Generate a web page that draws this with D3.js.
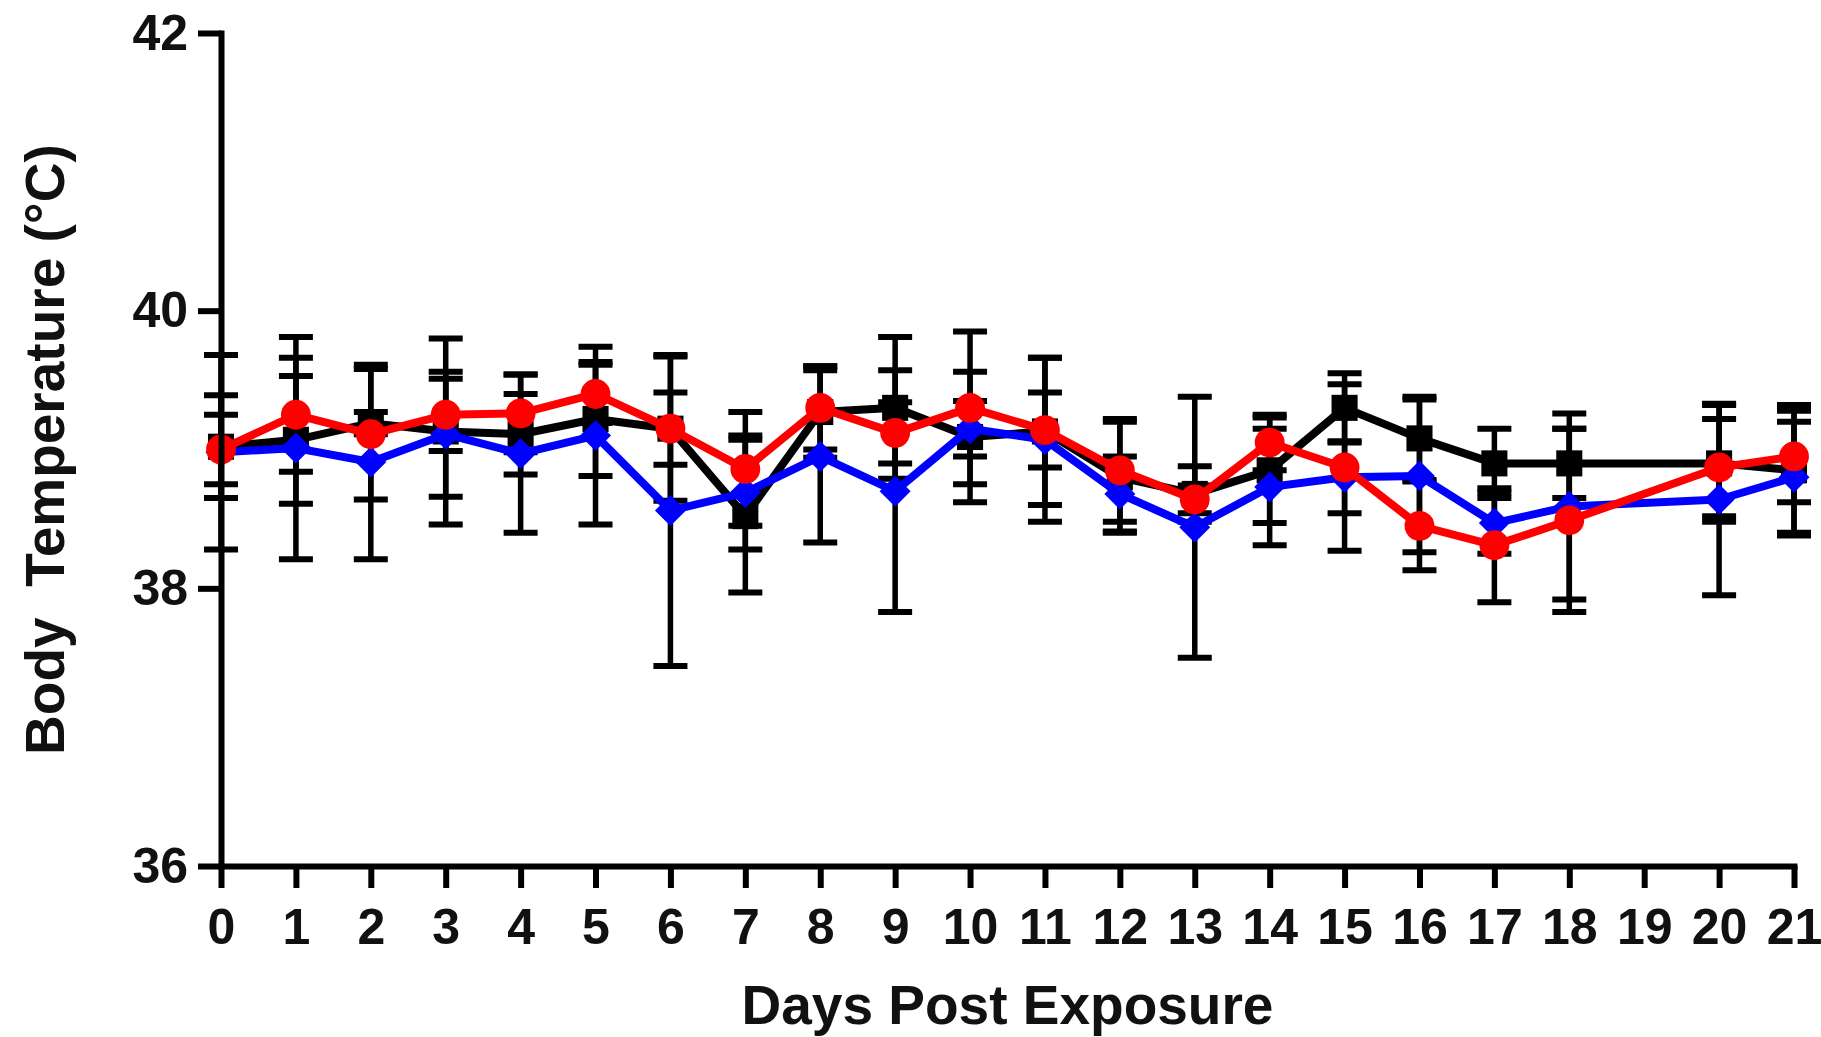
<!DOCTYPE html>
<html>
<head>
<meta charset="utf-8">
<script src="https://cdn.jsdelivr.net/npm/d3@7"></script>
<style>
  html, body { margin: 0; padding: 0; background: #fff; }
  svg { display: block; }
  text { font-family: "Liberation Sans", Arial, sans-serif; font-weight: bold; fill: #111; white-space: pre; }
</style>
</head>
<body>
<svg id="chart" width="1821" height="1037"></svg>
<script>
// ---- data ----
const days = [0,1,2,3,4,5,6,7,8,9,10,11,12,13,14,15,16,17,18,20,21];
const xTicks = [0,1,2,3,4,5,6,7,8,9,10,11,12,13,14,15,16,17,18,19,20,21];
const yTicks = [36,38,40,42];

const blackMean = [39.02,39.07,39.19,39.13,39.11,39.22,39.15,38.52,39.27,39.30,39.09,39.13,38.80,38.68,38.85,39.30,39.08,38.90,38.90,38.90,38.85];
const blackSD   = [0.37,0.46,0.08,0.67,0.29,0.41,0.52,0.55,0.33,0.51,0.47,0.53,0.40,0.20,0.38,0.25,0.30,0.25,0.25,0.42,0.47];

const blueMean  = [38.98,39.01,38.91,39.11,38.97,39.10,38.56,38.69,38.95,38.70,39.15,39.07,38.68,38.44,38.73,38.80,38.81,38.47,38.59,38.64,38.80];
const blueSD    = [0.70,0.80,0.70,0.45,0.57,0.64,1.12,0.41,0.62,0.87,0.20,0.59,0.27,0.94,0.42,0.26,0.55,0.22,0.67,0.69,0.40];

const redMean   = [39.00,39.25,39.11,39.25,39.26,39.40,39.15,38.86,39.30,39.12,39.30,39.14,38.85,38.64,39.05,38.87,38.45,38.31,38.49,38.87,38.95];
const redSD     = [0.25,0.41,0.47,0.26,0.28,0.21,0.26,0.41,0.30,0.22,0.55,0.27,0.37,0.10,0.20,0.60,0.32,0.41,0.66,0.35,0.33];

const xTitle = "Days Post Exposure";
const yTitle = "Body  Temperature (\u00B0C)";

// ---- layout ----
const svg = d3.select("#chart");
const x = d3.scaleLinear().domain([0, 21]).range([221, 1794]);
const y = d3.scaleLinear().domain([36, 42]).range([866, 33]);

const series = [
  { mean: blackMean, sd: blackSD, color: "#000000", shape: "square" },
  { mean: blueMean,  sd: blueSD,  color: "#0000ff", shape: "diamond" },
  { mean: redMean,   sd: redSD,   color: "#ff0000", shape: "circle" }
];

// error bars
const eb = svg.append("g");
series.forEach(s => {
  days.forEach((d, i) => {
    const cx = x(d), top = y(s.mean[i] + s.sd[i]), bot = y(s.mean[i] - s.sd[i]);
    eb.append("line").attr("x1", cx).attr("x2", cx).attr("y1", top).attr("y2", bot)
      .attr("stroke", "#000").attr("stroke-width", 5.5);
    [top, bot].forEach(yy => {
      eb.append("line").attr("x1", cx - 17).attr("x2", cx + 17).attr("y1", yy).attr("y2", yy)
        .attr("stroke", "#000").attr("stroke-width", 6);
    });
  });
});

// lines + markers
const line = d3.line().x(p => x(p[0])).y(p => y(p[1]));
series.forEach(s => {
  const pts = days.map((d, i) => [d, s.mean[i]]);
  svg.append("path").datum(pts).attr("d", line)
    .attr("fill", "none").attr("stroke", s.color).attr("stroke-width", 8)
    .attr("stroke-linejoin", "round");
  let sym;
  if (s.shape === "square") sym = d3.symbol().type(d3.symbolSquare).size(680);
  else if (s.shape === "diamond") sym = d3.symbol().type(d3.symbolSquare).size(480);
  else sym = d3.symbol().type(d3.symbolCircle).size(700);
  svg.append("g").selectAll("path").data(pts).join("path")
    .attr("transform", p => `translate(${x(p[0])},${y(p[1])})` + (s.shape === "diamond" ? " rotate(45)" : ""))
    .attr("d", sym)
    .attr("fill", s.color);
});

// axes
const yAxis = d3.axisLeft(y).tickValues(yTicks).tickFormat(d3.format("d")).tickSize(23).tickSizeOuter(0).tickPadding(10);
const gy = svg.append("g").attr("transform", `translate(${x(0)},0)`).call(yAxis);
const xAxis = d3.axisBottom(x).tickValues(xTicks).tickFormat(d3.format("d")).tickSize(22).tickSizeOuter(0).tickPadding(20);
const gx = svg.append("g").attr("transform", `translate(0,${y(36)})`).call(xAxis);

[gx, gy].forEach(g => {
  g.select(".domain").attr("stroke", "#000").attr("stroke-width", 6).attr("stroke-linecap", "square");
  g.selectAll(".tick line").attr("stroke", "#000").attr("stroke-width", 6);
  g.selectAll(".tick text").attr("font-size", 50).attr("font-family", "Liberation Sans, Arial, sans-serif")
    .attr("font-weight", "bold").attr("fill", "#111");
});

// titles
svg.append("text").attr("x", (x(0) + x(21)) / 2).attr("y", 1024)
  .attr("text-anchor", "middle").attr("font-size", 55).text(xTitle);
svg.append("text").attr("transform", `translate(64,${(y(36) + y(42)) / 2}) rotate(-90)`)
  .attr("text-anchor", "middle").attr("font-size", 55).text(yTitle);
</script>
</body>
</html>
